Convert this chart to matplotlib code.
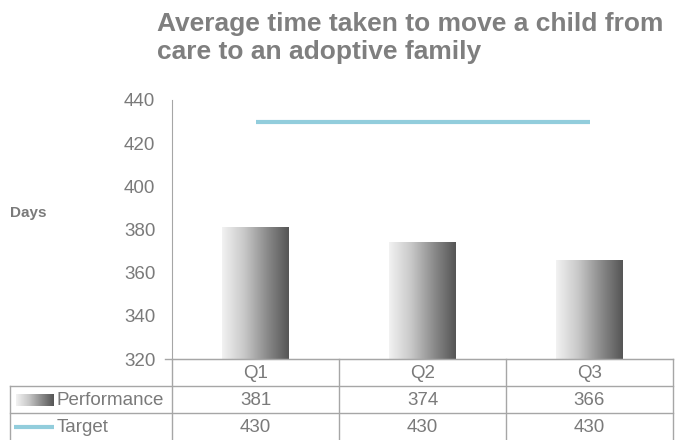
import matplotlib
matplotlib.use("Agg")
import matplotlib.pyplot as plt
import numpy as np
from matplotlib.colors import LinearSegmentedColormap
from matplotlib import transforms

plt.rcParams['font.family'] = ['Liberation Sans', 'DejaVu Sans']

categories = ["Q1", "Q2", "Q3"]
performance = [381, 374, 366]
target = [430, 430, 430]
y_ticks = [320, 340, 360, 380, 400, 420, 440]
title_lines = ["Average time taken to move a child from", "care to an adoptive family"]
y_label = "Days"
row_labels = ["Performance", "Target"]

W, H = 677, 440
fig = plt.figure(figsize=(W / 100, H / 100), dpi=100)

ax_l, ax_r, ax_t, ax_b = 172, 673, 100, 359
ax = fig.add_axes([ax_l / W, 1 - ax_b / H, (ax_r - ax_l) / W, (ax_b - ax_t) / H])
ov = fig.add_axes([0, 0, 1, 1], zorder=5)
ov.set_xlim(0, W)
ov.set_ylim(H, 0)
ov.axis('off')
ov.patch.set_alpha(0)

text_col = '#7a7a7a'
grid_col = '#a6a6a6'
cmap = LinearSegmentedColormap.from_list('g', ['#f2f2f2', '#c8c8c8', '#8c8c8c', '#555555'])
grad = np.linspace(0, 1, 256).reshape(1, -1)

x = np.arange(len(categories))
bars = ax.bar(x, [p - 320 for p in performance], bottom=320, width=0.4, color='none', edgecolor='none')
for b in bars:
    x0, y0 = b.get_x(), b.get_y()
    im = ax.imshow(grad, cmap=cmap, aspect='auto', extent=[x0, x0 + b.get_width(), y0, y0 + b.get_height()],
                   zorder=2, interpolation='bicubic')
    im.set_clip_path(b)

ax.plot(x, target, color='#92cddc', lw=3, solid_capstyle='butt', zorder=3)

ax.set_xlim(-0.5, 2.5)
ax.set_ylim(320, 440)
ax.set_yticks(y_ticks)
ax.set_yticklabels([str(t) for t in y_ticks], fontsize=13.5, color=text_col)
ax.tick_params(axis='y', length=0, pad=12)
ax.set_xticks([])
for s in ['top', 'right']:
    ax.spines[s].set_visible(False)
ax.spines['left'].set_color(grid_col)
ax.spines['bottom'].set_color(grid_col)
ax.patch.set_alpha(0)

for ln, base in zip(title_lines, [31, 59]):
    fig.text(157 / W, 1 - base / H, ln, ha='left', va='baseline', fontsize=19, fontweight='bold',
             color='#7f7f7f')
fig.text(10 / W, 1 - 213 / H, y_label, ha='left', va='center', fontsize=11, fontweight='bold', color=text_col)

# table (x in ax data coords, y in overlay pixel coords)
bt = transforms.blended_transform_factory(ax.transData, ov.transData)
row_y = [359, 386, 413, 441]
lw = 1.0
for xb in [-0.5, 0.5, 1.5, 2.5]:
    ov.plot([xb, xb], [row_y[0], row_y[-1]], color=grid_col, lw=lw, transform=bt, clip_on=False)
for yy in row_y[1:3]:
    ov.plot([10, 673], [yy, yy], color=grid_col, lw=lw, clip_on=False)
ov.plot([165, 673], [row_y[0], row_y[0]], color=grid_col, lw=lw, clip_on=False)
ov.plot([10, 10], [row_y[1], row_y[-1]], color=grid_col, lw=lw, clip_on=False)

fs = 13.5
for i, c in enumerate(categories):
    ov.text(i, (row_y[0] + row_y[1]) / 2 + 1, c, transform=bt, ha='center', va='center', fontsize=fs, color=text_col)
    ov.text(i, (row_y[1] + row_y[2]) / 2 + 1, str(performance[i]), transform=bt, ha='center', va='center',
            fontsize=fs, color=text_col)
    ov.text(i, (row_y[2] + row_y[3]) / 2, str(target[i]), transform=bt, ha='center', va='center',
            fontsize=fs, color=text_col)

ov.imshow(grad, cmap=cmap, aspect='auto', extent=[16, 54, 406, 394], interpolation='bicubic', zorder=3)
ov.set_xlim(0, W)
ov.set_ylim(H, 0)
ov.plot([14, 54], [427, 427], color='#92cddc', lw=3, solid_capstyle='butt')
ov.text(57, (row_y[1] + row_y[2]) / 2 + 1, row_labels[0], ha='left', va='center', fontsize=fs, color=text_col)
ov.text(57, (row_y[2] + row_y[3]) / 2, row_labels[1], ha='left', va='center', fontsize=fs, color=text_col)

fig.savefig('out.png', dpi=100)
